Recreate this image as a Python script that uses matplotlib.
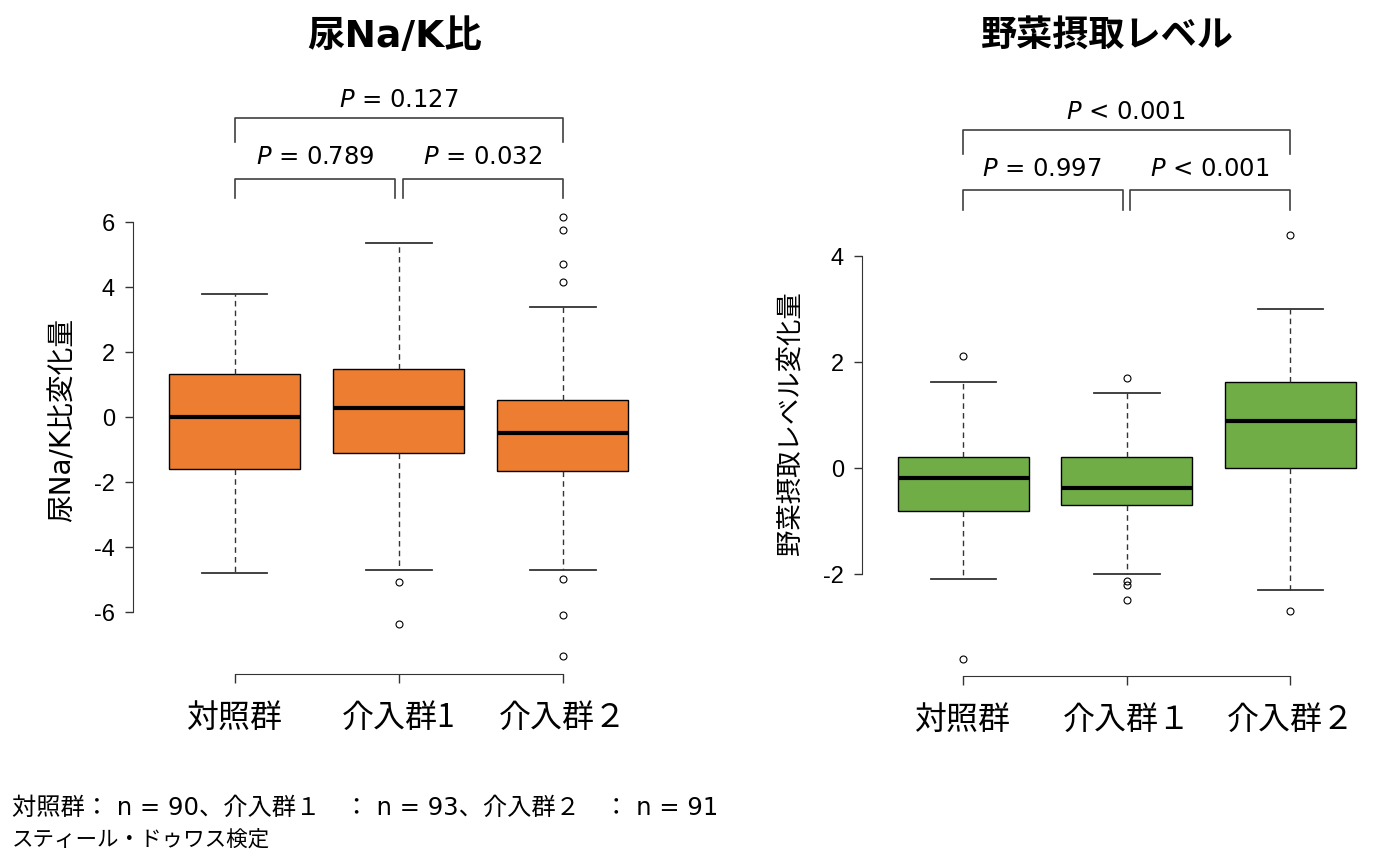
import matplotlib
matplotlib.use("Agg")
import matplotlib.pyplot as plt
from matplotlib.transforms import blended_transform_factory

W, H = 1387, 862

# data (box stats per group)
groups_left = ["対照群", "介入群1", "介入群２"]
groups_right = ["対照群", "介入群１", "介入群２"]

nak_whislo = [-4.81, -4.71, -4.71]
nak_q1 = [-1.60, -1.13, -1.66]
nak_med = [0.00, 0.27, -0.51]
nak_q3 = [1.31, 1.48, 0.51]
nak_whishi = [3.77, 5.35, 3.38]
nak_fliers = [[], [-5.08, -6.38], [6.16, 5.76, 4.69, 4.16, -5.00, -6.09, -7.37]]

veg_whislo = [-2.09, -2.00, -2.31]
veg_q1 = [-0.81, -0.70, 0.00]
veg_med = [-0.20, -0.39, 0.89]
veg_q3 = [0.20, 0.20, 1.61]
veg_whishi = [1.61, 1.41, 3.00]
veg_fliers = [[2.10, -3.60], [1.69, -2.13, -2.21, -2.50], [4.39, -2.70]]

p_left = ["0.127", "0.789", "0.032"]
p_left_op = ["=", "=", "="]
p_right = ["0.001", "0.997", "0.001"]
p_right_op = ["<", "=", "<"]

footnote1 = "対照群： n = 90、介入群１　： n = 93、介入群２　： n = 91"
footnote2 = "スティール・ドゥワス検定"

CJK = ["Noto Sans CJK JP", "DejaVu Sans"]
LAT_CJK = ["DejaVu Sans", "Noto Sans CJK JP"]


def fx(x):
    return x / W


def fy(y):
    return 1 - y / H


def make_stats(lo, q1, med, q3, hi, fl):
    return [dict(whislo=a, q1=b, med=c, q3=d, whishi=e, fliers=f)
            for a, b, c, d, e, f in zip(lo, q1, med, q3, hi, fl)]


def draw_panel(ax, stats, color, labels, ticks, ylim):
    ax.bxp(stats, positions=[1, 2, 3], widths=0.8, patch_artist=True,
           showfliers=True,
           boxprops=dict(facecolor=color, edgecolor="black", linewidth=1.0),
           medianprops=dict(color="black", linewidth=3),
           whiskerprops=dict(color="#333333", linewidth=1.0, linestyle=(0, (4, 3))),
           capprops=dict(color="#333333", linewidth=1.3),
           flierprops=dict(marker="o", markerfacecolor="none", markeredgecolor="black",
                           markersize=5, markeredgewidth=0.8))
    ax.set_xlim(0.38, 3.62)
    ax.set_ylim(*ylim)
    for s in ["top", "right"]:
        ax.spines[s].set_visible(False)
    ax.spines["left"].set_bounds(ticks[0], ticks[-1])
    ax.spines["bottom"].set_bounds(1, 3)
    ax.spines["left"].set_color("#333333")
    ax.spines["bottom"].set_color("#333333")
    ax.set_yticks(ticks)
    ax.set_yticklabels([str(t) for t in ticks], family="Liberation Sans", fontsize=17)
    ax.set_xticks([1, 2, 3])
    ax.set_xticklabels(labels, family=CJK, fontsize=23)
    ax.tick_params(axis="y", length=6, width=1, color="#333333", pad=7)
    ax.tick_params(axis="x", length=6.5, width=1, color="#333333", pad=13)


def bracket(ax, x0, x1, ytop, ybot):
    tr = blended_transform_factory(ax.transData, ax.figure.transFigure)
    ax.plot([x0, x0, x1, x1], [fy(ybot), fy(ytop), fy(ytop), fy(ybot)],
            transform=tr, clip_on=False, color="#404040", linewidth=1.2)


def ptext(x, y, op, val):
    plt.figtext(fx(x), fy(y), r"$\it{P}$ " + op + " " + val, ha="center", va="center",
                fontsize=17.5, family="DejaVu Sans")


fig = plt.figure(figsize=(W / 100, H / 100), dpi=100)

ax1 = fig.add_axes([fx(133), fy(674.8), 531.4 / W, 474.8 / H])
draw_panel(ax1, make_stats(nak_whislo, nak_q1, nak_med, nak_q3, nak_whishi, nak_fliers),
           "#ED7D31", groups_left, [-6, -4, -2, 0, 2, 4, 6], (-7.91, 6.70))

ax2 = fig.add_axes([fx(862), fy(676.5), 529.7 / W, 457.4 / H])
draw_panel(ax2, make_stats(veg_whislo, veg_q1, veg_med, veg_q3, veg_whishi, veg_fliers),
           "#70AD47", groups_right, [-2, 0, 2, 4], (-3.92, 4.71))

# titles
fig.text(fx(395), fy(37), "尿Na/K比", ha="center", va="center", fontsize=27,
         fontweight="bold", family=LAT_CJK)
fig.text(fx(1107), fy(35), "野菜摂取レベル", ha="center", va="center", fontsize=26,
         fontweight="bold", family=CJK)

# y labels
fig.text(fx(63), fy(420), "尿Na/K比変化量", rotation=90, ha="center", va="center",
         fontsize=20, family=LAT_CJK)
fig.text(fx(790), fy(423), "野菜摂取レベル変化量", rotation=90, ha="center", va="center",
         fontsize=19, family=CJK)

# significance brackets
bracket(ax1, 1, 3, 119, 143)
bracket(ax1, 1, 1.975, 180, 199)
bracket(ax1, 2.025, 3, 180, 199)
ptext(399, 100, p_left_op[0], p_left[0])
ptext(315, 157, p_left_op[1], p_left[1])
ptext(483, 157, p_left_op[2], p_left[2])

bracket(ax2, 1, 3, 131, 155)
bracket(ax2, 1, 1.975, 191, 211)
bracket(ax2, 2.02, 3, 191, 211)
ptext(1126, 112, p_right_op[0], p_right[0])
ptext(1042, 169, p_right_op[1], p_right[1])
ptext(1210, 169, p_right_op[2], p_right[2])

# footnote
fig.text(fx(12), fy(808), footnote1, ha="left", va="center", fontsize=17.5, family=LAT_CJK)
fig.text(fx(12), fy(840), footnote2, ha="left", va="center", fontsize=15.5, family=CJK)

fig.savefig("out.png", dpi=100)
